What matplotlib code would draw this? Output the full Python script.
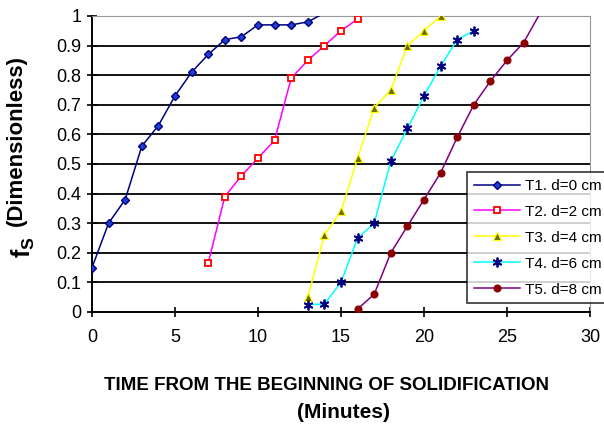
import matplotlib
matplotlib.use("Agg")
import matplotlib.pyplot as plt

plt.rcParams['font.family'] = ['Liberation Sans', 'DejaVu Sans']
plt.rcParams['mathtext.fontset'] = 'custom'
plt.rcParams['mathtext.rm'] = 'Liberation Sans'
plt.rcParams['mathtext.bf'] = 'Liberation Sans:bold'

# data
t1_x = [0, 1, 2, 3, 4, 5, 6, 7, 8, 9, 10, 11, 12, 13, 14]
t1_y = [0.15, 0.30, 0.38, 0.56, 0.63, 0.73, 0.81, 0.87, 0.92, 0.93, 0.97, 0.97, 0.97, 0.98, 1.01]
t2_x = [7, 8, 9, 10, 11, 12, 13, 14, 15, 16]
t2_y = [0.165, 0.39, 0.46, 0.52, 0.58, 0.79, 0.85, 0.90, 0.95, 0.99]
t3_x = [13, 14, 15, 16, 17, 18, 19, 20, 21]
t3_y = [0.05, 0.26, 0.34, 0.52, 0.69, 0.75, 0.90, 0.95, 1.0]
t4_x = [13, 14, 15, 16, 17, 18, 19, 20, 21, 22, 23]
t4_y = [0.025, 0.027, 0.10, 0.25, 0.30, 0.51, 0.62, 0.73, 0.83, 0.92, 0.95]
t5_x = [16, 17, 18, 19, 20, 21, 22, 23, 24, 25, 26, 27]
t5_y = [0.01, 0.06, 0.20, 0.29, 0.38, 0.47, 0.59, 0.70, 0.78, 0.85, 0.91, 1.01]
labels = ["T1. d=0 cm", "T2. d=2 cm", "T3. d=4 cm", "T4. d=6 cm", "T5. d=8 cm"]

x_ticks = [0, 5, 10, 15, 20, 25, 30]
y_ticks = [0, 0.1, 0.2, 0.3, 0.4, 0.5, 0.6, 0.7, 0.8, 0.9, 1.0]
y_ticklabels = ["0", "0.1", "0.2", "0.3", "0.4", "0.5", "0.6", "0.7", "0.8", "0.9", "1"]

fig = plt.figure(figsize=(6.04, 4.25), dpi=100)
ax = fig.add_axes([92/604, 1 - 312/425, (590 - 92)/604, (312 - 16)/425])

for y in y_ticks[1:-1]:
    ax.axhline(y, color='black', lw=1.3, zorder=1)

ax.plot(t1_x, t1_y, color='#000080', lw=1.1, marker='D', ms=4.5, mfc='#1f3fd0', mec='#000080',
        markevery=list(range(len(t1_x) - 1)), label=labels[0], zorder=3)
ax.plot(t2_x, t2_y, color='#ff00ff', lw=1.1, marker='s', ms=5, mfc='white', mec='#ff0000',
        mew=1.3, label=labels[1], zorder=3)
ax.plot(t3_x, t3_y, color='#ffff00', lw=1.1, marker='^', ms=6, mfc='#6b6b00', mec='#ffff00',
        mew=0.8, label=labels[2], zorder=3)
ax.plot(t4_x, t4_y, color='#00ffff', lw=1.1, marker=(6, 2, 0), ms=7, mec='#000080',
        mew=1.3, label=labels[3], zorder=3)
ax.plot(t5_x, t5_y, color='#800080', lw=1.1, marker='o', ms=4.8, mfc='#8b0000', mec='#8b0000',
        markevery=list(range(len(t5_x) - 1)), label=labels[4], zorder=3)

ax.set_xlim(0, 30)
ax.set_ylim(0, 1)
ax.set_xticks(x_ticks)
ax.set_yticks(y_ticks)
ax.set_yticklabels(y_ticklabels)
ax.tick_params(direction='inout', length=7, width=1.2, labelsize=13, colors='black')
ax.tick_params(axis='x', pad=9)
ax.tick_params(axis='y', pad=4)
ax.spines['left'].set_linewidth(1.4)
ax.spines['bottom'].set_linewidth(1.4)
ax.spines['top'].set_color('#999999')
ax.spines['right'].set_color('#999999')

fig.text(327/604, 1 - 386/425, "TIME FROM THE BEGINNING OF SOLIDIFICATION",
         ha='center', va='center', fontsize=13.5, fontweight='bold')
fig.text(343/604, 1 - 412/425, "(Minutes)", ha='center', va='center',
         fontsize=15, fontweight='bold')
fig.text(16/604, 1 - 140/425, "(Dimensionless)", rotation=90, ha='center', va='center',
         fontsize=16, fontweight='bold')
fig.text(23/604, 1 - 247/425, r'$\mathbf{f_S}$', rotation=90, ha='center', va='center',
         fontsize=18)

leg = ax.legend(loc='upper left', bbox_to_anchor=(467/604, 1 - 172/425),
                bbox_transform=fig.transFigure, frameon=True, fancybox=False,
                edgecolor='black', fontsize=11, handlelength=3.0, labelspacing=0.78,
                borderpad=0.45, handletextpad=0.35, borderaxespad=0)
leg.get_frame().set_linewidth(1.2)

fig.savefig("out.png", dpi=100)
